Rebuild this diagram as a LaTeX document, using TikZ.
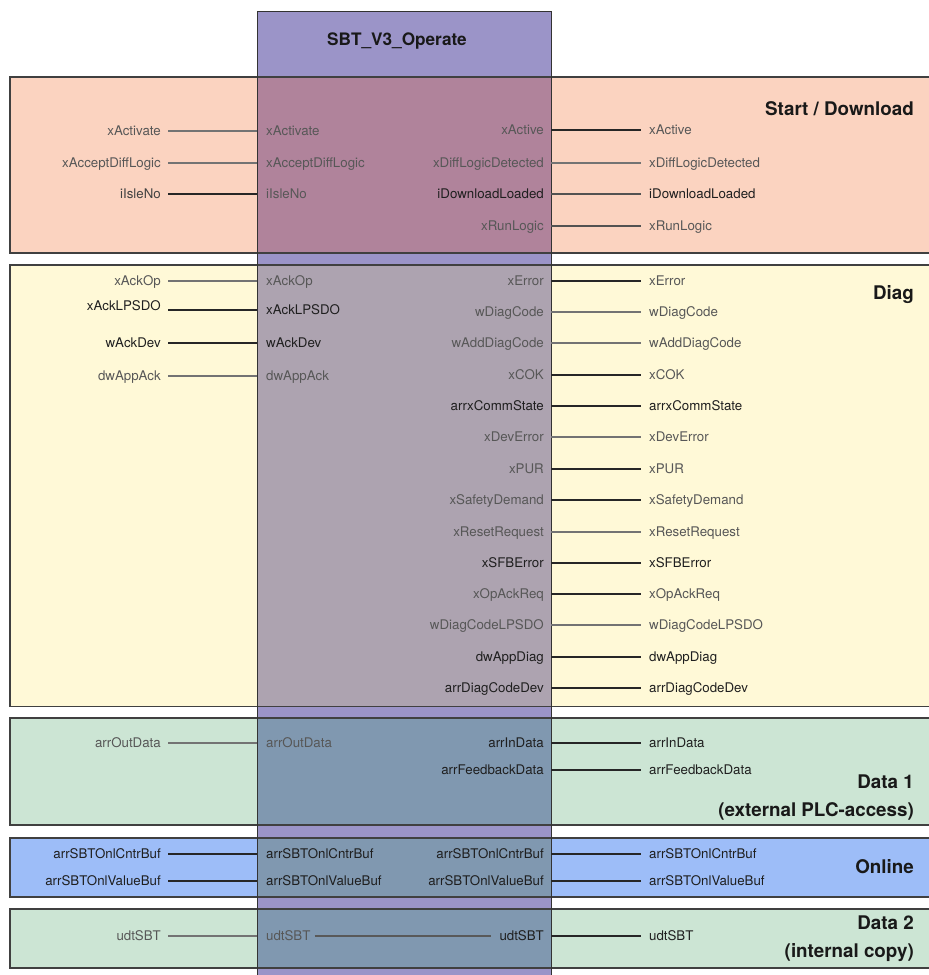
\documentclass[tikz,border=0pt]{standalone}
\usepackage{fontspec}
\setmainfont{TeX Gyre Heros}
\definecolor{colfill}{RGB}{155,148,200}
\definecolor{salmon}{RGB}{251,211,192}
\definecolor{salmonov}{RGB}{176,131,155}
\definecolor{cream}{RGB}{255,249,215}
\definecolor{creamov}{RGB}{173,163,176}
\definecolor{mint}{RGB}{204,229,212}
\definecolor{mintov}{RGB}{128,152,176}
\definecolor{skyblue}{RGB}{157,189,248}
\definecolor{skyov}{RGB}{128,152,176}
\colorlet{txtlo}{black!66}
\colorlet{txtmid}{black!74}
\colorlet{txthi}{black!88}
\colorlet{wirelo}{black!55}
\colorlet{wiremid}{black!68}
\colorlet{wirehi}{black!85}
\begin{document}
\begin{tikzpicture}[x=1pt,y=-1pt,
  lbl/.style={font=\fontsize{13.3}{15}\selectfont, text height=9.5pt, text depth=0pt, inner ysep=0pt},
  oleft/.style={lbl, anchor=east, inner xsep=7pt},
  ileft/.style={lbl, anchor=west, inner xsep=9pt},
  iright/.style={lbl, anchor=east, inner xsep=7pt},
  oright/.style={lbl, anchor=west, inner xsep=8pt},
  wire/.style={line width=1.1pt},
  bandborder/.style={draw=black!75, line width=1.2pt},
  section/.style={font=\fontsize{18.8}{22}\selectfont\bfseries, anchor=east, inner sep=0pt, text height=13.5pt, text depth=0pt, text=black!90}
]
\useasboundingbox (0,0) rectangle (929,975);
\clip (0,0) rectangle (929,975);

% column
\fill[colfill] (257,11) rectangle (551,990);

% bands
\foreach \top/\bot/\bc/\oc in {77/253/salmon/salmonov, 265/706.5/cream/creamov, 718/825/mint/mintov, 838/897/skyblue/skyov, 909/968/mint/mintov}{
  \fill[\bc] (10,\top) rectangle (945,\bot);
  \fill[\oc] (257,\top) rectangle (551,\bot);
  \draw[bandborder] (10,\top) rectangle (945,\bot);
}

% column border
\draw[black!80, line width=1pt] (257,990) -- (257,11) -- (551,11) -- (551,990);

% title
\node[font=\fontsize{17.2}{20}\selectfont\bfseries, text=black!90] (title) at (397,40.5) {SBT\_V3\_Operate};

% section titles
\node[section] (secA) at (914,109) {Start / Download};
\node[section] (secB) at (914,293) {Diag};
\node[section] (secC1) at (914,782) {Data 1};
\node[section] (secC2) at (914,810) {(external PLC-access)};
\node[section] (secD) at (914,867) {Online};
\node[section] (secE1) at (914,923) {Data 2};
\node[section] (secE2) at (914,951) {(internal copy)};

% left side inputs
\foreach \y/\nm/\tc/\ic/\lc/\dy in {
  131/xActivate/txtlo/txtlo/wirelo/0,
  163/xAcceptDiffLogic/txtlo/txtlo/wirelo/0,
  194/iIsleNo/txtmid/txtlo/wirehi/0,
  281/xAckOp/txtlo/txtlo/wirelo/0,
  310/xAckLPSDO/txthi/txthi/wirehi/-4,
  343/wAckDev/txthi/txthi/wirehi/0,
  376/dwAppAck/txtlo/txtlo/wirelo/0,
  743/arrOutData/txtlo/txtlo/wirelo/0,
  854/arrSBTOnlCntrBuf/txthi/txthi/wirehi/0,
  881/arrSBTOnlValueBuf/txthi/txthi/wirehi/0,
  936/udtSBT/txtlo/txtlo/wirelo/0}{
  \node[ileft, text=\ic] (iL-\nm) at (257,\y) {\nm};
  \node[oleft, text=\tc] (oL-\nm) at (168,\y+\dy) {\nm};
  \draw[wire, \lc] (oL-\nm.east |- iL-\nm.west) -- (iL-\nm.west);
}

% right side outputs
\foreach \y/\nm/\tc/\lc in {
  130/xActive/txtlo/wirehi,
  163/xDiffLogicDetected/txtlo/wirelo,
  194/iDownloadLoaded/txthi/wiremid,
  226/xRunLogic/txtlo/wiremid,
  281/xError/txtlo/wirehi,
  312/wDiagCode/txtlo/wirelo,
  343/wAddDiagCode/txtlo/wirelo,
  375/xCOK/txtlo/wirehi,
  406/arrxCommState/txthi/wirehi,
  437/xDevError/txtlo/wirelo,
  469/xPUR/txtlo/wirehi,
  500/xSafetyDemand/txtlo/wirehi,
  532/xResetRequest/txtlo/wirelo,
  563/xSFBError/txthi/wirehi,
  594/xOpAckReq/txtlo/wirehi,
  625/wDiagCodeLPSDO/txtlo/wirelo,
  657/dwAppDiag/txthi/wirehi,
  688/arrDiagCodeDev/txthi/wirehi,
  743/arrInData/txthi/wirehi,
  770/arrFeedbackData/txthi/wirehi,
  854/arrSBTOnlCntrBuf/txthi/wirehi,
  881/arrSBTOnlValueBuf/txthi/wirehi,
  936/udtSBT/txthi/wirehi}{
  \node[iright, text=\tc] (iR-\nm) at (551,\y) {\nm};
  \node[oright, text=\tc] (oR-\nm) at (641,\y) {\nm};
  \draw[wire, \lc] (iR-\nm.east) -- (oR-\nm.west);
}

% internal copy link
\draw[wire, black!65] ([xshift=-5pt]iL-udtSBT.east) -- ([xshift=-1pt]iR-udtSBT.west);
\end{tikzpicture}
\end{document}
